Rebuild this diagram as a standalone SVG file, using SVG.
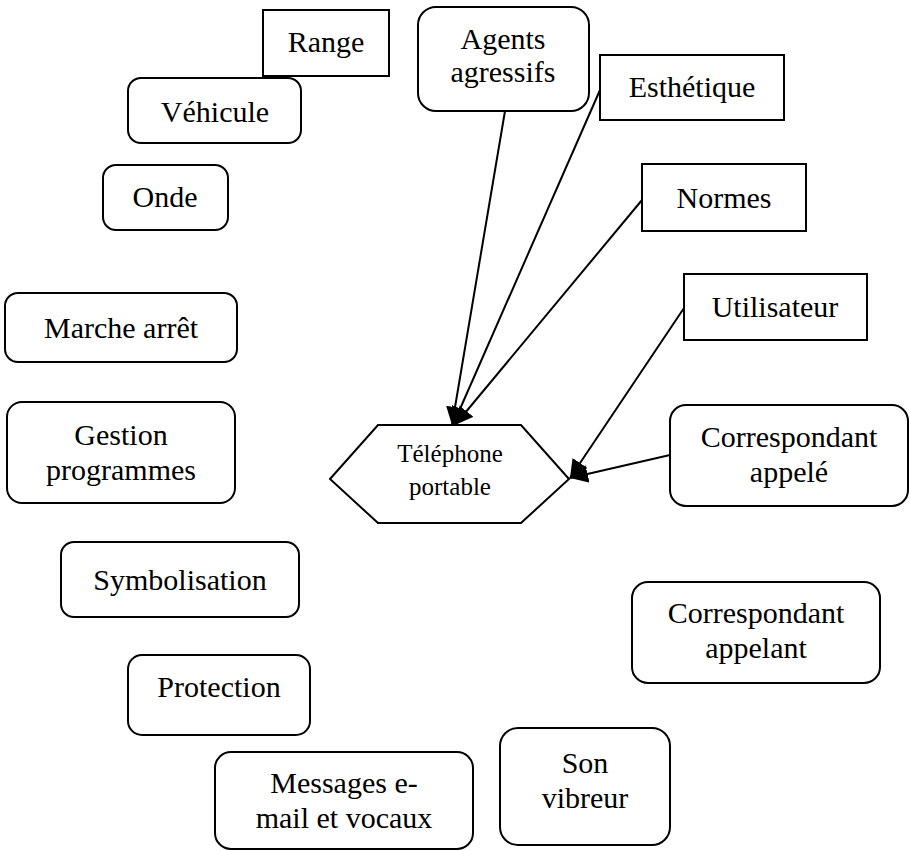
<svg xmlns="http://www.w3.org/2000/svg" width="910" height="851" viewBox="0 0 910 851">
<style>
.b{fill:#fff;stroke:#000;stroke-width:2}
.t{font-family:"Liberation Serif","Times New Roman",serif;font-size:30px;fill:#000;text-anchor:middle}
.s{font-size:25px}
.c{stroke:#000;stroke-width:2;fill:none;marker-end:url(#ah)}
</style>
<defs>
<marker id="ah" markerUnits="userSpaceOnUse" markerWidth="22" markerHeight="20" refX="18" refY="9" orient="auto">
<path d="M0,0 L18,9 L0,18 Z" fill="#000"/>
</marker>
</defs>
<rect width="910" height="851" fill="#fff"/>
<g id="connectors">
<line class="c" x1="505" y1="111" x2="452" y2="425"/>
<line class="c" x1="600" y1="90" x2="453" y2="425"/>
<line class="c" x1="642" y1="200" x2="455" y2="425"/>
<line class="c" x1="684" y1="308" x2="570" y2="478"/>
<line class="c" x1="670" y1="455" x2="570" y2="478"/>
</g>
<g id="range"><rect class="b" x="263" y="10" width="126" height="66"/><text class="t" x="326" y="52">Range</text></g>
<g id="vehicule"><rect class="b" x="128" y="78" width="173" height="65" rx="13"/><text class="t" x="215" y="122">Véhicule</text></g>
<g id="onde"><rect class="b" x="103" y="165" width="125" height="65" rx="13"/><text class="t" x="165" y="207">Onde</text></g>
<g id="agents"><rect class="b" x="418" y="7" width="171" height="104" rx="18"/><text class="t" x="503" y="49">Agents</text><text class="t" x="503" y="82">agressifs</text></g>
<g id="esthetique"><rect class="b" x="600" y="55" width="184" height="65"/><text class="t" x="692" y="97">Esthétique</text></g>
<g id="normes"><rect class="b" x="642" y="164" width="164" height="67"/><text class="t" x="724" y="208">Normes</text></g>
<g id="utilisateur"><rect class="b" x="684" y="274" width="183" height="66"/><text class="t" x="775" y="317">Utilisateur</text></g>
<g id="marche"><rect class="b" x="5" y="293" width="232" height="69" rx="13"/><text class="t" x="121" y="338">Marche arrêt</text></g>
<g id="gestion"><rect class="b" x="7" y="402" width="228" height="101" rx="15"/><text class="t" x="121" y="445">Gestion</text><text class="t" x="121" y="480">programmes</text></g>
<g id="telephone"><polygon class="b" points="330,479 378,425 521,425 569,479 521,523 378,523"/><text class="t s" x="450" y="462">Téléphone</text><text class="t s" x="450" y="495">portable</text></g>
<g id="appele"><rect class="b" x="670" y="405" width="238" height="101" rx="16"/><text class="t" x="789" y="447">Correspondant</text><text class="t" x="789" y="482">appelé</text></g>
<g id="symbolisation"><rect class="b" x="61" y="542" width="238" height="75" rx="13"/><text class="t" x="180" y="590">Symbolisation</text></g>
<g id="appelant"><rect class="b" x="632" y="582" width="248" height="101" rx="16"/><text class="t" x="756" y="623">Correspondant</text><text class="t" x="756" y="658">appelant</text></g>
<g id="protection"><rect class="b" x="128" y="655" width="182" height="80" rx="14"/><text class="t" x="219" y="697">Protection</text></g>
<g id="son"><rect class="b" x="500" y="728" width="170" height="117" rx="18"/><text class="t" x="585" y="773">Son</text><text class="t" x="585" y="808">vibreur</text></g>
<g id="messages"><rect class="b" x="215" y="752" width="258" height="97" rx="16"/><text class="t" x="344" y="793">Messages e-</text><text class="t" x="344" y="828">mail et vocaux</text></g>
</svg>
